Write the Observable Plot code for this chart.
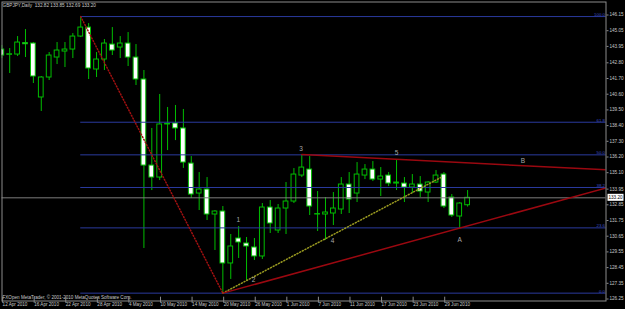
<!DOCTYPE html>
<html><head><meta charset="utf-8">
<script src="https://cdn.jsdelivr.net/npm/d3@7"></script>
<script src="https://cdn.jsdelivr.net/npm/@observablehq/plot@0.6"></script>
<style>html,body{margin:0;padding:0;background:#000;overflow:hidden}</style>
</head><body><div id="chart"></div>
<script>
const titleText = "GBPJPY,Daily  132.82 133.85 132.69 133.20";
const bidText = "133.20";
const copyrightText = "FXOpen MetaTrader, \u00a9 2001-2010 MetaQuotes Software Corp.";
const tickIdx = [0,4,8,12,16,20,24,28,32,36,40,44,48,52,56];
const tickLabels = ["12 Apr 2010","16 Apr 2010","22 Apr 2010","28 Apr 2010","4 May 2010","10 May 2010","14 May 2010","20 May 2010","26 May 2010","1 Jun 2010","7 Jun 2010","11 Jun 2010","17 Jun 2010","23 Jun 2010","29 Jun 2010"];
const priceTicks = [126.25,127.35,128.45,129.55,130.65,131.75,132.85,133.95,135.10,136.20,137.30,138.40,139.50,140.60,141.70,142.80,143.95,145.05,146.15];
const opens = [143.73,143.36,143.38,144.18,144.15,140.37,141.77,143.17,143.59,143.73,144.64,145.27,142.33,143.03,144.08,143.87,144.15,143.17,141.63,135.60,134.76,138.52,138.55,138.20,135.74,133.64,133.92,132.17,132.38,128.74,130.49,130.14,129.86,129.23,132.66,131.05,132.59,133.08,134.90,135.32,132.17,132.17,132.24,132.52,134.27,133.64,134.90,135.32,134.62,134.90,134.34,134.34,134.06,134.27,133.71,134.41,134.97,133.36,132.03,132.82];
const highs = [144.01,143.80,144.64,145.13,144.22,141.84,143.52,144.22,144.22,144.85,146.04,145.55,143.52,144.43,145.27,144.64,144.92,144.08,142.26,138.20,140.58,139.67,139.81,139.53,136.23,135.11,134.76,132.45,132.73,130.77,131.33,130.56,130.49,132.94,133.15,132.87,134.41,135.39,136.37,136.23,133.78,133.36,133.71,134.76,135.11,135.81,135.67,135.88,135.46,135.11,135.95,134.76,134.97,134.83,134.48,135.25,135.11,133.57,133.01,133.85];
const lows = [143.10,142.05,143.24,143.17,141.35,139.39,141.56,142.68,142.47,143.10,144.57,141.63,141.77,142.26,143.31,143.10,142.54,141.21,129.79,133.85,134.55,136.65,137.35,135.40,133.29,132.45,131.75,129.65,126.66,127.62,129.09,127.55,128.95,129.02,130.84,130.84,130.77,132.94,134.76,132.10,130.98,130.35,131.40,132.17,132.24,133.01,134.62,134.48,133.43,134.13,133.85,133.01,133.64,133.36,133.01,134.34,132.59,131.96,131.19,132.69];
const closes = [143.31,143.40,144.22,144.10,141.84,141.77,143.31,143.66,143.73,144.64,145.27,142.40,143.03,144.15,143.66,144.15,143.17,141.63,135.60,134.76,138.48,138.48,138.20,135.81,133.57,133.92,132.17,132.38,128.74,129.93,130.21,129.93,129.23,132.66,131.54,132.59,133.08,134.97,135.46,132.73,132.20,132.31,132.59,134.27,133.22,134.97,135.32,134.62,134.83,134.34,134.41,134.06,134.27,133.78,134.41,134.90,132.73,132.10,132.94,133.34];
const fibLevels = [0, 23.6, 38.2, 50.0, 61.8, 100.0];
const fibLabels = ["0.0","23.6","38.2","50.0","61.8","100.0"];
const fibAnchors = [10, 28];
const rightIdx = 76.6;
const upperTrend = [[38,136.37],[76.6,135.30]];
const lowerTrend = [[28,126.66],[76.6,134.04]];
const yellowTrend = [[28,126.66],[55.6,134.76]];
const waveNames = ["1","2","3","4","5","A","B"];
const waveIdx = [29.95,31.9,37.9,41.9,50.0,58.0,66.0];
const wavePrice = [131.82,127.62,136.79,130.30,136.46,130.40,135.90];

const bars = opens.map((o,i)=>({i, o, h:highs[i], l:lows[i], c:closes[i]}));
const fibHigh = highs[fibAnchors[0]], fibLow = lows[fibAnchors[1]];
const fibRows = fibLevels.map((lv,k)=>({price: fibLow + (fibHigh-fibLow)*lv/100, label: fibLabels[k]}));
const fibDiag = [[fibAnchors[0], fibHigh],[fibAnchors[1], fibLow]];
const waves = waveNames.map((n,k)=>({n, x:waveIdx[k], y:wavePrice[k]}));
const lastClose = closes[closes.length-1];

const GREEN = "#00be00", BLUE = "#2a3a9e", FONT = "Liberation Sans, Arial, sans-serif";
const chart = Plot.plot({
  width: 625, height: 309,
  marginLeft: 1.5, marginTop: 1.5, marginRight: 19.5, marginBottom: 8.5,
  style: {background: "#000", color: "#c8c8c8", fontFamily: FONT, fontSize: "4.6px"},
  x: {domain: [0, 59], range: [1.3, 467.1]},
  y: {domain: [126.25, 146.15], range: [298.5, 14.5]},
  marks: [
    Plot.ruleX(bars, {x: "i", y1: "l", y2: "h", stroke: GREEN, clip: true}),
    Plot.rect(bars, {x1: d => d.i - 0.3, x2: d => d.i + 0.3, y1: "o", y2: "c", fill: d => d.c >= d.o ? "#000" : "#fff", stroke: GREEN, clip: true}),
    Plot.ruleY(fibRows, {y: "price", x1: () => fibAnchors[0], x2: () => rightIdx, stroke: BLUE, clip: true}),
    Plot.text(fibRows, {y: "price", text: "label", frameAnchor: "right", textAnchor: "end", lineAnchor: "bottom", dx: -1, dy: -0.6, fill: "#3b4cc4", fontSize: 4.4}),
    Plot.ruleY([lastClose], {stroke: "#7c7c7c"}),
    Plot.line(fibDiag, {x: d => d[0], y: d => d[1], stroke: "#a01010", strokeDasharray: "1,2", clip: true}),
    Plot.line(yellowTrend, {x: d => d[0], y: d => d[1], stroke: "#9a9a20", strokeDasharray: "1,2", clip: true}),
    Plot.line(upperTrend, {x: d => d[0], y: d => d[1], stroke: "#9a0810", clip: true}),
    Plot.line(lowerTrend, {x: d => d[0], y: d => d[1], stroke: "#9a0810", clip: true}),
    Plot.text(waves, {x: "x", y: "y", text: "n", fill: "#a8a8a8", fontSize: 6.5}),
    Plot.text([titleText], {frameAnchor: "top-left", text: d => d, textAnchor: "start", lineAnchor: "top", dx: 0.5, dy: 1.8, fill: "#c8c8c8", fontSize: 4.7}),
    Plot.text([copyrightText], {frameAnchor: "bottom-left", text: d => d, textAnchor: "start", lineAnchor: "bottom", dx: 0.5, dy: -2, fill: "#c8c8c8", fontSize: 4.6}),
    Plot.frame({stroke: "#8c8c8c"}),
    Plot.axisY({anchor: "right", ticks: priceTicks, tickFormat: d => d.toFixed(2), tickSize: 2, tickPadding: 1.5, fontSize: 4.6, label: null, stroke: "#8c8c8c", fill: "#c8c8c8"}),
    Plot.axisX({anchor: "bottom", ticks: tickIdx, tickFormat: i => tickLabels[tickIdx.indexOf(i)], tickSize: 6, tickPadding: 0, textAnchor: "start", dx: 0.8, dy: -3.8, fontSize: 4.6, label: null, stroke: "#8c8c8c", fill: "#c8c8c8"})
  ]
});
const ys = chart.scale("y");
const yb = ys.apply(lastClose);
const svg = d3.select(chart);
svg.append("rect").attr("x", 607.5).attr("y", yb - 3.5).attr("width", 16).attr("height", 7).attr("fill", "#fff");
svg.append("text").attr("x", 615.5).attr("y", yb).attr("dy", "0.35em").attr("text-anchor", "middle")
  .attr("font-size", 4.6).attr("font-family", FONT).attr("fill", "#000").text(bidText);
document.getElementById("chart").appendChild(chart);
</script></body></html>
